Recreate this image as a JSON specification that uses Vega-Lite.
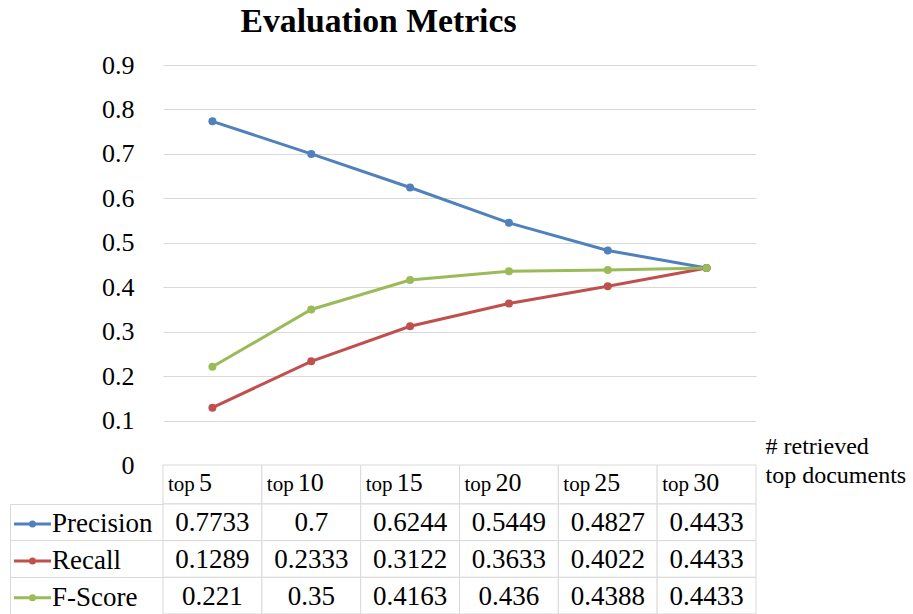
{
  "$schema": "https://vega.github.io/schema/vega-lite/v6.json",
  "padding": {"left": 9, "top": 5, "right": 5, "bottom": 0},
  "config": {"font": "Liberation Serif", "view": {"stroke": null}, "axis": {"labelColor": "black", "titleColor": "black"}},
  "datasets": {
    "metrics": [
      {"docs": "top 5", "n": "5", "metric": "Precision", "value": 0.7733},
      {"docs": "top 10", "n": "10", "metric": "Precision", "value": 0.7},
      {"docs": "top 15", "n": "15", "metric": "Precision", "value": 0.6244},
      {"docs": "top 20", "n": "20", "metric": "Precision", "value": 0.5449},
      {"docs": "top 25", "n": "25", "metric": "Precision", "value": 0.4827},
      {"docs": "top 30", "n": "30", "metric": "Precision", "value": 0.4433},
      {"docs": "top 5", "n": "5", "metric": "Recall", "value": 0.1289},
      {"docs": "top 10", "n": "10", "metric": "Recall", "value": 0.2333},
      {"docs": "top 15", "n": "15", "metric": "Recall", "value": 0.3122},
      {"docs": "top 20", "n": "20", "metric": "Recall", "value": 0.3633},
      {"docs": "top 25", "n": "25", "metric": "Recall", "value": 0.4022},
      {"docs": "top 30", "n": "30", "metric": "Recall", "value": 0.4433},
      {"docs": "top 5", "n": "5", "metric": "F-Score", "value": 0.221},
      {"docs": "top 10", "n": "10", "metric": "F-Score", "value": 0.35},
      {"docs": "top 15", "n": "15", "metric": "F-Score", "value": 0.4163},
      {"docs": "top 20", "n": "20", "metric": "F-Score", "value": 0.436},
      {"docs": "top 25", "n": "25", "metric": "F-Score", "value": 0.4388},
      {"docs": "top 30", "n": "30", "metric": "F-Score", "value": 0.4433}
    ]
  },
  "spacing": 0,
  "bounds": "flush",
  "resolve": {"scale": {"x": "independent", "y": "independent"}},
  "vconcat": [
    {
      "width": 593,
      "height": 400,
      "title": {"text": "Evaluation Metrics", "fontSize": 33.7, "fontWeight": "bold", "font": "Liberation Serif", "color": "black", "anchor": "middle", "frame": "group", "dx": -81, "offset": -14, "baseline": "alphabetic"},
      "data": {"name": "metrics"},
      "encoding": {
        "x": {
          "field": "docs", "type": "nominal",
          "sort": ["top 5", "top 10", "top 15", "top 20", "top 25", "top 30"],
          "scale": {"type": "point", "padding": 0.5},
          "axis": {"orient": "bottom", "labels": false, "ticks": false, "domain": false, "grid": false,
            "title": ["# retrieved", "top documents"], "titleX": 602, "titleY": -12, "titleAlign": "left",
            "titleAngle": 0, "titleBaseline": "alphabetic", "titleFontSize": 24, "titleFontWeight": "normal",
            "titleLineHeight": 29, "titleFont": "Liberation Serif"}
        },
        "y": {
          "field": "value", "type": "quantitative",
          "scale": {"domain": [0, 0.9], "nice": false},
          "axis": {"values": [0, 0.1, 0.2, 0.3, 0.4, 0.5, 0.6, 0.7, 0.8, 0.9], "format": "~g", "grid": true,
            "gridColor": "#d9d9d9", "gridWidth": 1, "domain": false, "ticks": false, "labelFontSize": 26,
            "labelPadding": 29, "title": null, "labelFont": "Liberation Serif"}
        },
        "color": {
          "field": "metric", "type": "nominal",
          "scale": {"domain": ["Precision", "Recall", "F-Score"], "range": ["#4F81BD", "#C0504D", "#9BBB59"]},
          "legend": {
            "orient": "none", "legendX": -144, "legendY": 445.5, "title": null,
            "symbolType": "M-1.85,0H1.85M0.2,0A0.2,0.2,0,1,1,-0.2,0A0.2,0.2,0,1,1,0.2,0Z",
            "symbolSize": 400, "symbolStrokeWidth": 3, "labelFont": "Liberation Serif", "labelFontSize": 27,
            "labelOffset": 6, "rowPadding": 8.9, "padding": 0, "labelColor": "black", "labelLimit": 200
          }
        }
      },
      "layer": [
        {"mark": {"type": "line", "strokeWidth": 3}},
        {"mark": {"type": "point", "filled": true, "size": 64, "opacity": 1}}
      ]
    },
    {
      "width": 593,
      "height": 39,
      "data": {"name": "metrics"},
      "transform": [{"filter": "datum.metric == 'Precision'"}],
      "encoding": {
        "x": {"field": "docs", "type": "nominal", "sort": ["top 5", "top 10", "top 15", "top 20", "top 25", "top 30"],
          "scale": {"type": "band", "paddingInner": 0, "paddingOuter": 0}, "axis": null, "bandPosition": 0}
      },
      "layer": [
        {
          "mark": {"type": "rect", "fill": "white", "stroke": "#d9d9d9", "strokeWidth": 1},
          "encoding": {
            "x": {"field": "docs", "type": "nominal", "sort": ["top 5", "top 10", "top 15", "top 20", "top 25", "top 30"]}
          }
        },
        {
          "mark": {"type": "text", "text": "top", "fontSize": 21, "align": "left", "baseline": "alphabetic", "dx": 5, "dy": 6.5, "color": "black", "font": "Liberation Serif"}
        },
        {
          "mark": {"type": "text", "fontSize": 26, "align": "left", "baseline": "alphabetic", "dx": 36, "dy": 6.5, "color": "black", "font": "Liberation Serif"},
          "encoding": {"text": {"field": "n", "type": "nominal"}}
        }
      ]
    },
    {
      "width": 593,
      "height": 110,
      "data": {"name": "metrics"},
      "encoding": {
        "x": {"field": "docs", "type": "nominal", "sort": ["top 5", "top 10", "top 15", "top 20", "top 25", "top 30"],
          "scale": {"type": "band", "paddingInner": 0, "paddingOuter": 0}, "axis": null},
        "y": {"field": "metric", "type": "nominal",
          "scale": {"domain": ["Precision", "Recall", "F-Score"], "paddingInner": 0, "paddingOuter": 0},
          "axis": {"orient": "left", "offset": 153, "labels": false, "domain": true, "domainColor": "#d9d9d9",
            "domainWidth": 1, "grid": false, "ticks": true, "tickSize": -153, "tickColor": "#d9d9d9",
            "tickWidth": 1, "bandPosition": 0, "title": null}}
      },
      "layer": [
        {"mark": {"type": "rect", "fill": "white", "stroke": "#d9d9d9", "strokeWidth": 1}},
        {
          "mark": {"type": "text", "fontSize": 27, "baseline": "alphabetic", "dy": 9, "align": "center", "color": "black", "font": "Liberation Serif"},
          "encoding": {"text": {"field": "value", "type": "quantitative", "format": "~r"}}
        }
      ]
    }
  ]
}
